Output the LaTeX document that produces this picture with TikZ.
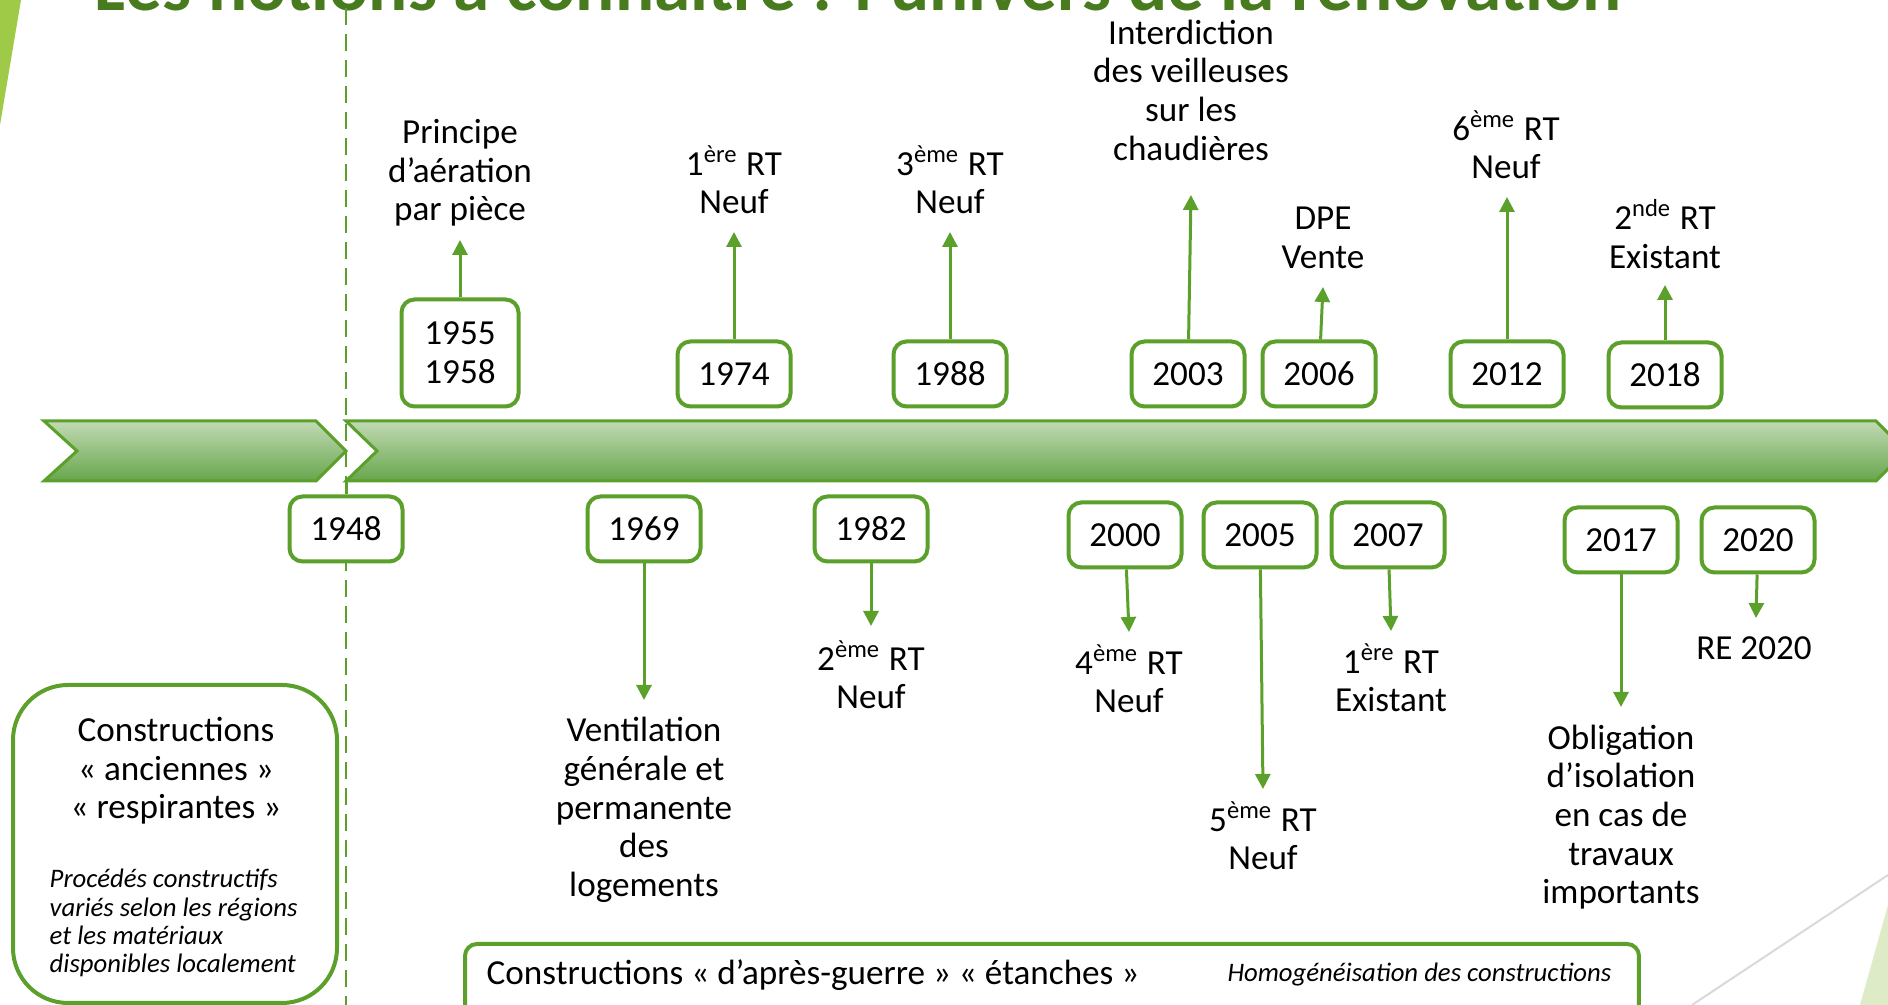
\documentclass[tikz,border=0pt]{standalone}
\usepackage{fontspec}
\setmainfont{Carlito}
\usepackage{xcolor}
\usetikzlibrary{arrows.meta}

\definecolor{ecogreen}{RGB}{92,160,44}
\definecolor{bandtop}{RGB}{194,218,180}
\definecolor{bandbot}{RGB}{104,166,76}
\definecolor{titlegreen}{RGB}{72,122,30}
\definecolor{facetgreen}{RGB}{158,202,72}
\definecolor{palegreen}{RGB}{221,236,199}

\begin{document}
\begin{tikzpicture}[x=0.1mm, y=-0.1mm,
    font=\fontsize{10}{11}\selectfont,
    year/.style = {draw=ecogreen, line width=0.4mm, rounded corners=1.3mm,
        fill=white, align=center, inner sep=0pt,
        minimum width=11.3mm, minimum height=6.5mm},
    event/.style = {align=center, inner sep=0pt},
    link/.style = {ecogreen, line width=0.3mm,
        -{Triangle[length=1.5mm, width=1.5mm]}},
    frame/.style = {draw=ecogreen, line width=0.4mm, inner sep=0pt},
    note/.style = {inner sep=0pt, font=\fontsize{7.6}{8}\selectfont\itshape}]

\useasboundingbox (0,0) rectangle (1888,1005);
\clip (0,0) rectangle (1888,1005);

% Slide decoration
\fill[facetgreen] (0,0) -- (21,0) -- (0,125) -- cycle;
\fill[palegreen] (1888,905) -- (1860,1005) -- (1888,1005) -- cycle;
\draw[gray!30, line width=0.2mm] (1692,1005) -- (1888,875);

% Title
\node[anchor=base west, inner sep=0pt, text=titlegreen,
    font=\fontsize{20.8}{22}\selectfont\bfseries] (title) at (94,11)
    {Les notions à connaître : l’univers de la rénovation};

% Timeline
\draw[ecogreen, line width=0.3mm, top color=bandtop, bottom color=bandbot]
    (44,421) -- (316,421) -- (346,451) -- (316,481) -- (44,481) -- (77,451) -- cycle;
\draw[ecogreen, line width=0.3mm, top color=bandtop, bottom color=bandbot]
    (346,421) -- (1876,421) -- (1906,451) -- (1876,481) -- (346,481) -- (377,451) -- cycle;

% 1948 limit
\coordinate (dtop) at (346,8);
\coordinate (dbot) at (346,1005);
\coordinate (b1948) at (346,481);
\draw[ecogreen, line width=0.25mm, dash pattern=on 1.7mm off 0.9mm] (dtop) -- (dbot);
\node[year] (y1948) at (346,529) {1948};
\draw[ecogreen, line width=0.3mm] (b1948) -- (y1948);

% Above the timeline
\node[year, minimum width=11.7mm, minimum height=10.7mm] (y1955) at (460,353) {1955\\1958};
\coordinate (t1955) at (460,240);
\node[event] (e1955) at (460,173) {Principe\\d’aération\\par pièce};
\draw[link] (y1955) -- (t1955);

\node[year] (y1974) at (734,374) {1974};
\coordinate (t1974) at (734,232);
\node[event] (e1974) at (734,180) {1\textsuperscript{ère} RT\\Neuf};
\draw[link] (y1974) -- (t1974);

\node[year] (y1988) at (950,374) {1988};
\coordinate (t1988) at (950,232);
\node[event] (e1988) at (950,180) {3\textsuperscript{ème} RT\\Neuf};
\draw[link] (y1988) -- (t1988);

\node[year] (y2003) at (1188,374) {2003};
\coordinate (t2003) at (1191,195);
\node[event] (e2003) at (1191,90) {Interdiction\\des veilleuses\\sur les\\chaudières};
\draw[link] (y2003) -- (t2003);

\node[year] (y2006) at (1319,374) {2006};
\coordinate (t2006) at (1323,287);
\node[event] (e2006) at (1323,238) {DPE\\Vente};
\draw[link] (y2006) -- (t2006);

\node[year] (y2012) at (1507,374) {2012};
\coordinate (t2012) at (1507,197);
\node[event] (e2012) at (1506,145) {6\textsuperscript{ème} RT\\Neuf};
\draw[link] (y2012) -- (t2012);

\node[year] (y2018) at (1665,375) {2018};
\coordinate (t2018) at (1665,285);
\node[event] (e2018) at (1665,234) {2\textsuperscript{nde} RT\\Existant};
\draw[link] (y2018) -- (t2018);

% Below the timeline
\node[year] (y1969) at (644,529) {1969};
\coordinate (t1969) at (644,700);
\node[event] (e1969) at (644,810) {Ventilation\\générale et\\permanente\\des\\logements};
\draw[link] (y1969) -- (t1969);

\node[year] (y1982) at (871,529) {1982};
\coordinate (t1982) at (871,626);
\node[event] (e1982) at (871,675) {2\textsuperscript{ème} RT\\Neuf};
\draw[link] (y1982) -- (t1982);

\node[year] (y2000) at (1125,535) {2000};
\coordinate (t2000) at (1129,632);
\node[event] (e2000) at (1129,679) {4\textsuperscript{ème} RT\\Neuf};
\draw[link] (y2000) -- (t2000);

\node[year] (y2005) at (1260,535) {2005};
\coordinate (t2005) at (1263,789);
\node[event] (e2005) at (1263,836) {5\textsuperscript{ème} RT\\Neuf};
\draw[link] (y2005) -- (t2005);

\node[year] (y2007) at (1388,535) {2007};
\coordinate (t2007) at (1391,631);
\node[event] (e2007) at (1391,678) {1\textsuperscript{ère} RT\\Existant};
\draw[link] (y2007) -- (t2007);

\node[year] (y2017) at (1621,540) {2017};
\coordinate (t2017) at (1621,707);
\node[event] (e2017) at (1621,817) {Obligation\\d’isolation\\en cas de\\travaux\\importants};
\draw[link] (y2017) -- (t2017);

\node[year] (y2020) at (1758,540) {2020};
\coordinate (t2020) at (1756,618);
\node[event] (e2020) at (1754,648) {RE 2020};
\draw[link] (y2020) -- (t2020);

% Old buildings
\node[frame, rounded corners=5.5mm, minimum width=32.4mm, minimum height=31.8mm] (old) at (175,844) {};
\node[event] (oldtxt) at (176,771) {Constructions\\« anciennes »\\« respirantes »};
\node[note, align=left, anchor=west] (oldnote) at (49,923)
    {Procédés constructifs\\variés selon les régions\\et les matériaux\\disponibles localement};

% Post-war buildings
\node[frame, rounded corners=1.2mm, anchor=north west, minimum width=117.4mm, minimum height=9mm] (new) at (463,942) {};
\node[anchor=west, inner sep=0pt] (newtxt) at (486,975) {Constructions « d’après-guerre » « étanches »};
\node[note, anchor=east] (newnote) at (1612,975) {Homogénéisation des constructions};
\end{tikzpicture}
\end{document}
